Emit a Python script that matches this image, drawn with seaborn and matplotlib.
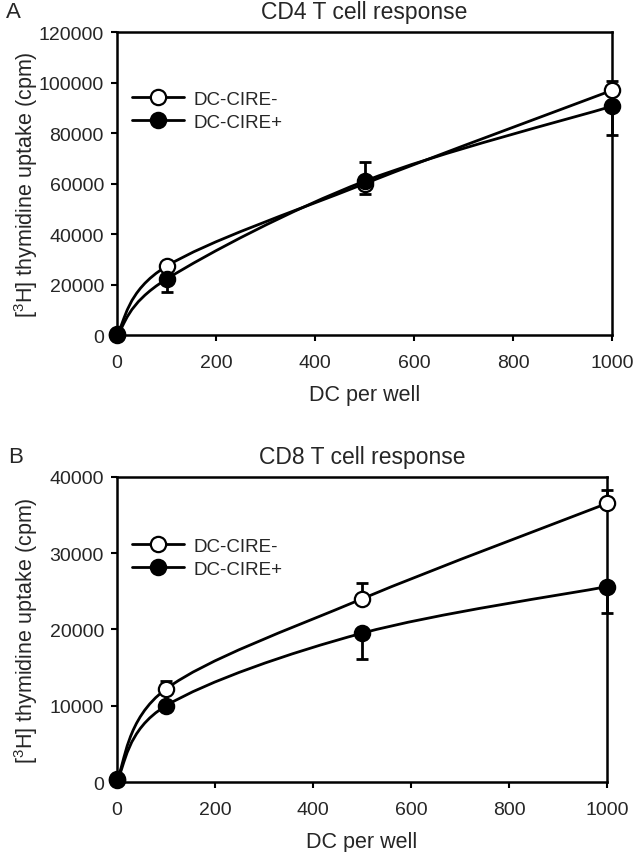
import numpy as np
import pandas as pd
import seaborn as sns
import matplotlib.pyplot as plt
from matplotlib.path import Path
from matplotlib.patches import PathPatch
from matplotlib.lines import Line2D

# data
dc_per_well = [0, 100, 500, 1000]

cd4_neg = [500, 27300, 60000, 97000]
cd4_neg_err = [0, 1500, 8500, 3600]     # drawn upward only
cd4_pos = [0, 22200, 61000, 90700]
cd4_pos_err = [0, 5000, 5000, 11500]    # drawn downward only

cd8_neg = [400, 12200, 24000, 36500]
cd8_neg_err = [0, 1000, 2100, 1700]
cd8_pos = [300, 10000, 19500, 25600]
cd8_pos_err = [0, 500, 3400, 3400]

series_labels = ["DC-CIRE-", "DC-CIRE+"]
cd4_yticks = [0, 20000, 40000, 60000, 80000, 100000, 120000]
cd8_yticks = [0, 10000, 20000, 30000, 40000]

sns.set_theme(style="ticks")
plt.rcParams['font.family'] = ['Liberation Sans', 'DejaVu Sans']
plt.rcParams['mathtext.fontset'] = 'custom'
plt.rcParams['mathtext.rm'] = 'Liberation Sans'
plt.rcParams['mathtext.it'] = 'Liberation Sans'
plt.rcParams['mathtext.bf'] = 'Liberation Sans'

LW = 2.0
MS = 11


# Excel-style smoothed line through the points (Catmull-Rom -> bezier)
def smooth_path(xs, ys):
    pts = np.column_stack([xs, ys]).astype(float)
    ext = np.vstack([pts[0], pts, pts[-1]])
    verts = [pts[0]]
    codes = [Path.MOVETO]
    for i in range(len(pts) - 1):
        p0, p1, p2, p3 = ext[i], ext[i + 1], ext[i + 2], ext[i + 3]
        verts += [p1 + (p2 - p0) / 6, p2 - (p3 - p1) / 6, p2]
        codes += [Path.CURVE4] * 3
    return Path(verts, codes)


def draw_panel(ax, neg, neg_err, pos, pos_err, yticks, title, legend_y):
    for vals in (neg, pos):
        ax.add_patch(PathPatch(smooth_path(dc_per_well, vals), fill=False,
                               edgecolor='black', lw=LW, zorder=2,
                               capstyle='round'))
    ax.errorbar(dc_per_well, neg, yerr=[np.zeros(len(neg)), neg_err], fmt='none',
                ecolor='black', elinewidth=LW, capsize=4.3, capthick=LW, zorder=3)
    ax.errorbar(dc_per_well, pos, yerr=[pos_err, np.zeros(len(pos))], fmt='none',
                ecolor='black', elinewidth=LW, capsize=4.3, capthick=LW, zorder=3)

    df = pd.DataFrame({'dc': dc_per_well * 2, 'cpm': list(neg) + list(pos),
                       'group': [series_labels[0]] * 4 + [series_labels[1]] * 4})
    sns.scatterplot(data=df[df.group == series_labels[0]], x='dc', y='cpm', ax=ax,
                    marker='o', s=MS ** 2, color='white', edgecolor='black',
                    linewidth=1.6, zorder=4, legend=False)
    sns.scatterplot(data=df[df.group == series_labels[1]], x='dc', y='cpm', ax=ax,
                    marker='o', s=MS ** 2, color='black', edgecolor='black',
                    linewidth=1.6, zorder=5, legend=False)

    ax.set_xlim(0, 1000)
    ax.set_ylim(0, yticks[-1])
    ax.set_xticks([0, 200, 400, 600, 800, 1000])
    ax.set_yticks(yticks)
    ax.set_title(title, fontsize=16.5, pad=10)
    ax.set_xlabel("DC per well", fontsize=15.5)
    ax.set_ylabel("[$^{3}$H] thymidine uptake (cpm)", fontsize=15.5)
    ax.tick_params(axis='both', labelsize=14, length=4.5, width=1.5,
                   direction='out', color='black')
    ax.tick_params(axis='x', pad=9)
    ax.tick_params(axis='y', pad=5)
    for sp in ax.spines.values():
        sp.set_linewidth(1.8)
        sp.set_color('black')
        sp.set_visible(True)

    handles = [Line2D([], [], color='black', lw=LW, marker='o', markersize=MS,
                      markerfacecolor=fc, markeredgecolor='black', markeredgewidth=1.6)
               for fc in ('white', 'black')]
    ax.legend(handles, series_labels, loc='upper left', bbox_to_anchor=(0.03, legend_y),
              frameon=False, fontsize=13.5, handlelength=2.8, handletextpad=0.5,
              labelspacing=0.3, borderpad=0, borderaxespad=0)


fig = plt.figure(figsize=(6.33, 8.53), dpi=100)
ax_a = fig.add_axes([0.185, 0.606, 0.782, 0.355])
ax_b = fig.add_axes([0.185, 0.082, 0.774, 0.358])

draw_panel(ax_a, cd4_neg, cd4_neg_err, cd4_pos, cd4_pos_err, cd4_yticks,
           "CD4 T cell response", 0.807)
draw_panel(ax_b, cd8_neg, cd8_neg_err, cd8_pos, cd8_pos_err, cd8_yticks,
           "CD8 T cell response", 0.80)

for ax, w, h in ((ax_a, 495, 303), (ax_b, 490, 305)):
    ax.yaxis.set_label_coords(-77 / w, 0.5)
    ax.xaxis.set_label_coords(0.5, -49 / h)
    for art in ax.collections + ax.patches + ax.lines:
        art.set_clip_on(False)

fig.text(6 / 633, 1 - 12 / 853, "A", fontsize=16, va='center', ha='left')
fig.text(8 / 633, 1 - 458 / 853, "B", fontsize=16, va='center', ha='left')

fig.savefig("out.png", dpi=100, facecolor='white')
